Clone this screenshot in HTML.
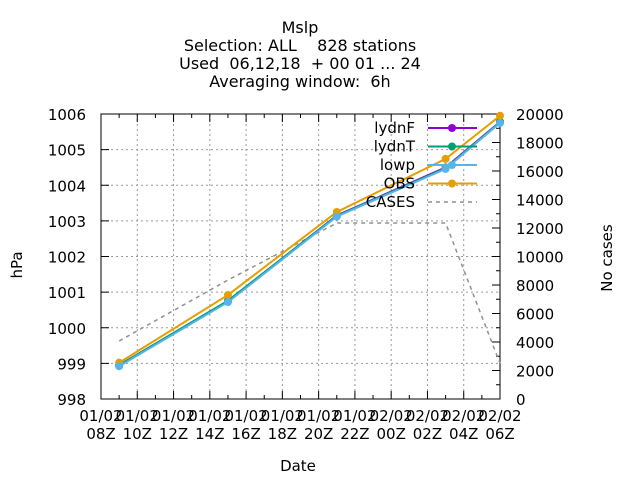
<!DOCTYPE html>
<html><head><meta charset="utf-8"><style>
body{margin:0;background:#fff}
svg text{font-family:"DejaVu Sans","Liberation Sans",sans-serif;font-size:15px;fill:#000;white-space:pre}
svg g.ttl text{font-size:16px}
</style></head><body>
<svg id="chart" width="640" height="480" viewBox="0 0 640 480">
<g class="ttl" text-anchor="middle">
<text x="300" y="33" xml:space="preserve">Mslp</text>
<text x="300" y="51" xml:space="preserve">Selection: ALL    828 stations</text>
<text x="300" y="69" xml:space="preserve">Used  06,12,18  + 00 01 ... 24</text>
<text x="300" y="87" xml:space="preserve">Averaging window:  6h</text>
</g>
<text x="17" y="270" transform="rotate(-90 17 265)" text-anchor="middle">hPa</text>
<text x="612" y="258" transform="rotate(-90 612 258)" text-anchor="middle">No cases</text>
<text x="298" y="471" text-anchor="middle">Date</text>
<g id="grid"></g><g id="axes"></g><g id="series"></g><g id="legend"></g>
</svg>
<script>
const hours=[1,7,13,19,22];
const lydnF=[998.95,1000.75,1003.15,1004.5,1005.78];
const lydnT=[998.95,1000.76,1003.14,1004.48,1005.77];
const lowp=[998.92,1000.72,1003.12,1004.46,1005.75];
const obs=[999.02,1000.92,1003.25,1004.74,1005.95];
const cases=[4070,8350,12350,12350,2500];
const xLabels=["08Z","10Z","12Z","14Z","16Z","18Z","20Z","22Z","00Z","02Z","04Z","06Z"];
const xDates=["01/02","01/02","01/02","01/02","01/02","01/02","01/02","01/02","02/02","02/02","02/02","02/02"];
const yTicks=[998,999,1000,1001,1002,1003,1004,1005,1006];
const y2Ticks=[0,2000,4000,6000,8000,10000,12000,14000,16000,18000,20000];

const L=101,R=500,T=114,B=399,NS="http://www.w3.org/2000/svg";
const X=h=>L+(R-L)*h/22, Y=v=>B-(B-T)*(v-998)/8, Y2=v=>B-(B-T)*v/20000;
function mk(p,tag,a){const e=document.createElementNS(NS,tag);for(const k in a)e.setAttribute(k,a[k]);document.getElementById(p).appendChild(e);return e;}
xLabels.forEach((l,i)=>{const x=X(i*2);
 if(i>0&&i<xLabels.length-1){const g=mk('grid','line',{x1:x,x2:x,y1:T,y2:B,stroke:'#999','stroke-dasharray':'2,3'});
 
 }
 const t=mk('axes','text',{x:x,y:421,'text-anchor':'middle'});t.textContent=xDates[i];
 
 
 const t2=mk('axes','text',{x:x,y:439,'text-anchor':'middle'});t2.textContent=l;
 
 
 mk('axes','line',{x1:x,x2:x,y1:B,y2:B-8,stroke:'#000'});mk('axes','line',{x1:x,x2:x,y1:T,y2:T+8,stroke:'#000'});
});
for(let h=1;h<22;h+=2){const x=X(h);mk('axes','line',{x1:x,x2:x,y1:B,y2:B-4,stroke:'#000'});mk('axes','line',{x1:x,x2:x,y1:T,y2:T+4,stroke:'#000'});}
yTicks.forEach((v,i)=>{const y=Y(v);
 if(i>0&&i<yTicks.length-1){const g=mk('grid','line',{x1:L,x2:R,y1:y,y2:y,stroke:'#999','stroke-dasharray':'2,3'});
 
 }
 mk('axes','line',{x1:L,x2:L+8,y1:y,y2:y,stroke:'#000'});
 const t=mk('axes','text',{x:86,y:y+6,'text-anchor':'end'});t.textContent=v;
 
 
});
y2Ticks.forEach(v=>{const y=Y2(v);
 mk('axes','line',{x1:R,x2:R-8,y1:y,y2:y,stroke:'#000'});
 if(v<20000){const ym=Y2(v+1000);mk('axes','line',{x1:R,x2:R-4,y1:ym,y2:ym,stroke:'#000'});}
 const t=mk('axes','text',{x:516,y:y+6});t.textContent=v;
 
 
});
mk('axes','rect',{x:L,y:T,width:R-L,height:B-T,fill:'none',stroke:'#000'});
function line(vals,fy,col,name,dash,marker){
 const pts=vals.map((v,i)=>X(hours[i])+','+fy(v)).join(' ');
 const p=mk('series','polyline',{points:pts,fill:'none',stroke:col,'stroke-width':dash?1.5:2,'stroke-dasharray':dash?'4,4':'none'});
 
 
 if(marker)vals.forEach((v,i)=>{const c=mk('series','circle',{cx:X(hours[i]),cy:fy(v),r:4,fill:col});
  
  });
}
line(cases,Y2,'#909090','cases',true,false);
line(lydnF,Y,'#9400d3','lydnF',false,true);
line(lydnT,Y,'#009e73','lydnT',false,true);
line(obs,Y,'#e69f00','obs',false,true);
line(lowp,Y,'#56b4e9','lowp',false,true);
const legN=["lydnF","lydnT","lowp","OBS","CASES"],legC=['#9400d3','#009e73','#56b4e9','#e69f00','#909090'];
legN.forEach((n,i)=>{const y=128+i*18.5;
 const t=mk('legend','text',{x:415,y:y+5,'text-anchor':'end'});t.textContent=n;
 
 
 const l=mk('legend','line',{x1:428,x2:477,y1:y,y2:y,stroke:legC[i],'stroke-width':i==4?1.5:2,'stroke-dasharray':i==4?'4,4':'none'});
 
 
 if(i<4)mk('legend','circle',{cx:452,cy:y,r:4,fill:legC[i]});
});
</script>
</body></html>
